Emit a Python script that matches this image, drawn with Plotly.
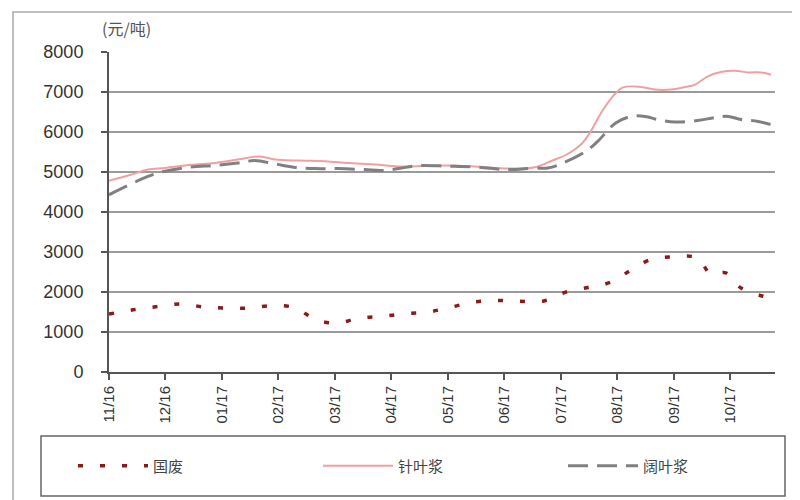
import plotly.graph_objects as go

# ---- data (x in months since 11/16) ----
tick_labels = ["11/16", "12/16", "01/17", "02/17", "03/17", "04/17",
               "05/17", "06/17", "07/17", "08/17", "09/17", "10/17"]
tick_pos = list(range(len(tick_labels)))

waste_x = [0.0, 0.46, 0.88, 1.29, 1.70, 2.09, 2.50, 2.89, 3.31, 3.65, 4.04, 4.44, 4.84, 5.24,
           5.65, 6.05, 6.46, 6.87, 7.27, 7.68, 8.07, 8.50, 8.87, 9.22, 9.59, 10.0, 10.42,
           10.65, 10.92, 11.19, 11.65]
waste_y = [1450, 1560, 1640, 1700, 1620, 1600, 1600, 1660, 1600, 1310, 1225, 1350, 1390, 1460,
           1500, 1620, 1750, 1790, 1770, 1770, 1990, 2120, 2240, 2530, 2810, 2880, 2850,
           2450, 2480, 2100, 1870]

soft_x = [0.0, 0.39, 0.69, 0.99, 1.45, 1.88, 2.28, 2.67, 2.94, 3.35, 3.82, 4.23, 4.71, 5.12,
          6.0, 6.53, 7.06, 7.54, 7.82, 8.12, 8.35, 8.51, 8.71, 8.92, 9.10, 9.42, 9.66, 9.95,
          10.25, 10.37, 10.60, 10.83, 11.08, 11.31, 11.54, 11.72]
soft_y = [4780, 4930, 5060, 5100, 5180, 5225, 5310, 5390, 5310, 5285, 5270, 5225, 5185, 5140,
          5165, 5130, 5085, 5120, 5270, 5450, 5680, 5975, 6475, 6890, 7115, 7125, 7060, 7060,
          7140, 7180, 7390, 7500, 7530, 7490, 7490, 7430]

hard_x = [0.0, 0.39, 0.69, 0.99, 1.45, 1.88, 2.28, 2.58, 2.94, 3.29, 3.65, 4.05, 4.53, 4.81,
          5.12, 5.47, 6.0, 6.53, 7.06, 7.54, 7.77, 8.04, 8.44, 8.65, 8.97, 9.24, 9.49, 9.72,
          10.02, 10.42, 10.74, 10.96, 11.19, 11.49, 11.75]
hard_y = [4430, 4700, 4890, 5020, 5125, 5165, 5225, 5285, 5200, 5115, 5085, 5085, 5060, 5035,
          5085, 5160, 5145, 5120, 5060, 5100, 5100, 5225, 5515, 5765, 6225, 6390, 6390, 6310,
          6250, 6285, 6365, 6390, 6310, 6265, 6170]

fig = go.Figure()
fig.add_trace(go.Scatter(x=waste_x, y=waste_y, mode="lines", name="国废",
                         line=dict(color="#8B1A1A", width=3.5, dash="5px,17px", shape="spline")))
fig.add_trace(go.Scatter(x=soft_x, y=soft_y, mode="lines", name="针叶浆",
                         line=dict(color="#F0A0A0", width=2, shape="spline")))
fig.add_trace(go.Scatter(x=hard_x, y=hard_y, mode="lines", name="阔叶浆",
                         line=dict(color="#808080", width=3, dash="20px,9px", shape="spline")))

L, R, T, B = 101, 33, 44, 136
PW, PH = 800 - L - R, 500 - T - B

def px(xp):
    return (xp - L) / PW

def py(yp):
    return (500 - B - yp) / PH

fig.update_layout(
    width=800, height=500,
    margin=dict(l=L, r=R, t=T, b=B),
    paper_bgcolor="white", plot_bgcolor="white",
    font=dict(family="Arial, Liberation Sans, sans-serif", color="#333"),
    showlegend=True,
    legend=dict(orientation="h", x=px(80), y=py(458), xanchor="left", yanchor="middle",
                font=dict(family="Noto Sans CJK SC", size=15, color="#444"),
                itemwidth=70, entrywidth=160, entrywidthmode="pixels",
                bgcolor="rgba(0,0,0,0)", borderwidth=0),
    xaxis=dict(range=[0, 11.79], tickvals=tick_pos, ticktext=tick_labels, tickangle=-90,
               showgrid=False, zeroline=False, showline=True, linecolor="#555", linewidth=2,
               ticks="outside", ticklen=6, tickcolor="#555", tickwidth=1.5,
               tickfont=dict(size=15, color="#333")),
    yaxis=dict(range=[0, 8000], dtick=1000, showgrid=True, gridcolor="#9a9a9a", gridwidth=2,
               zeroline=False, showline=True, linecolor="#555", linewidth=2,
               ticks="outside", ticklen=6, tickcolor="#555", tickwidth=1.5,
               ticklabelstandoff=14,
               tickfont=dict(size=18, color="#333")),
    shapes=[
        dict(type="rect", xref="paper", yref="paper", x0=px(33), x1=px(777), y0=py(488), y1=py(428),
             line=dict(color="#666", width=1.5)),
        dict(type="rect", xref="paper", yref="paper", x0=px(5), x1=px(796), y0=py(493), y1=py(4),
             line=dict(color="#aaa", width=1.5)),
    ],
    annotations=[
        dict(text="(元/吨)", xref="paper", yref="paper", x=px(118), y=py(20),
             xanchor="center", yanchor="middle", showarrow=False,
             font=dict(family="Noto Sans CJK SC", size=16, color="#555")),
    ],
)

fig.write_html("out.html")
